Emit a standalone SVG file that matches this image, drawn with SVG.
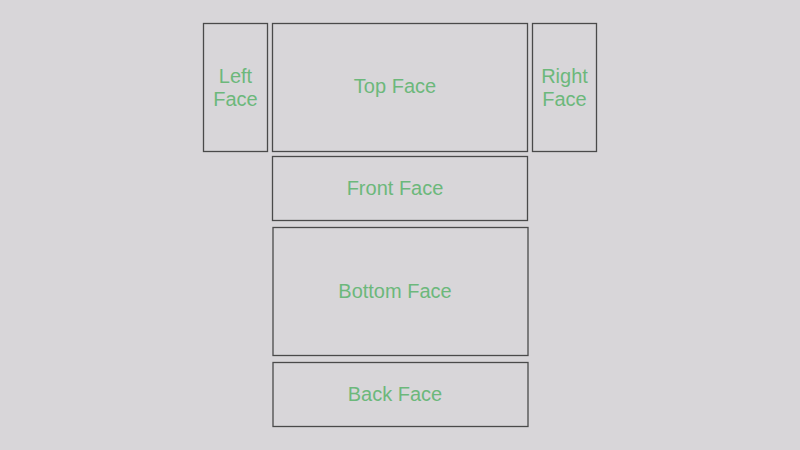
<svg xmlns="http://www.w3.org/2000/svg" width="800" height="450" viewBox="0 0 800 450">
<style>
.box{fill:#d8d6d9;stroke:#4a4a4a;stroke-width:1.3}
.lbl{font-family:"Liberation Sans",Arial,sans-serif;font-size:20px;fill:#6cb87b;text-anchor:middle}
</style>
<rect width="800" height="450" fill="#d8d6d9"/>
<g id="left-face">
<rect class="box" x="203.5" y="23.5" width="64" height="128"/>
<text class="lbl" x="235.5" y="83">Left</text>
<text class="lbl" x="235.5" y="105.5">Face</text>
</g>
<g id="top-face">
<rect class="box" x="272.5" y="23.5" width="255" height="128"/>
<text class="lbl" x="395" y="93">Top Face</text>
</g>
<g id="right-face">
<rect class="box" x="532.5" y="23.5" width="64" height="128"/>
<text class="lbl" x="564.5" y="83">Right</text>
<text class="lbl" x="564.5" y="105.5">Face</text>
</g>
<g id="front-face">
<rect class="box" x="272.5" y="156.5" width="255" height="64"/>
<text class="lbl" x="395" y="195">Front Face</text>
</g>
<g id="bottom-face">
<rect class="box" x="273" y="227.5" width="255" height="128"/>
<text class="lbl" x="395" y="297.5">Bottom Face</text>
</g>
<g id="back-face">
<rect class="box" x="273" y="362.5" width="255" height="64"/>
<text class="lbl" x="395" y="401">Back Face</text>
</g>
<g id="connectors"/>
</svg>
